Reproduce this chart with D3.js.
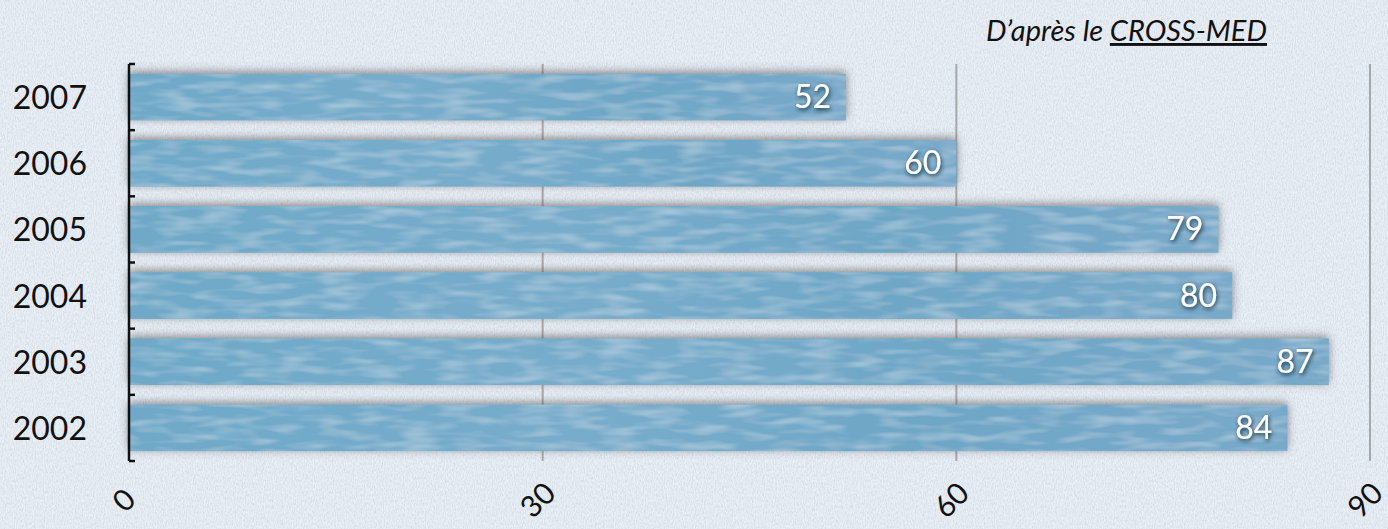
<!DOCTYPE html>
<meta charset="utf-8">
<head>
    <title>CROSS-MED</title>
</head>
<script src="https://d3js.org/d3.v7.min.js"></script>
<style>
  body { margin: 0; background: #e9eff6; }
</style>
<div id="my_dataviz"></div>
<script>

// data
var years = ["2007", "2006", "2005", "2004", "2003", "2002"];
var values = [52, 60, 79, 80, 87, 84];
var ticks = [0, 30, 60, 90];

var width = 1388,
    height = 529;

var svg = d3.select("#my_dataviz")
  .append("svg")
    .attr("width", width)
    .attr("height", height);

var defs = svg.append("defs");

// paper texture for the background
var paper = defs.append("filter").attr("id", "paper")
    .attr("x", 0).attr("y", 0).attr("width", "100%").attr("height", "100%");
paper.append("feTurbulence")
    .attr("type", "fractalNoise")
    .attr("baseFrequency", "0.9 0.35")
    .attr("numOctaves", 3)
    .attr("seed", 4)
    .attr("result", "noise");
paper.append("feColorMatrix")
    .attr("in", "noise")
    .attr("type", "matrix")
    .attr("values", "0 0 0 0 0.55  0 0 0 0 0.6  0 0 0 0 0.68  0 0 0 -1.1 0.75")
    .attr("result", "tint");
paper.append("feComposite").attr("in", "tint").attr("in2", "SourceGraphic").attr("operator", "over");

svg.append("rect")
    .attr("width", width)
    .attr("height", height)
    .attr("fill", "#eaf0f7")
    .attr("filter", "url(#paper)");

// shadow round the bars, heavier on top
var shadow = defs.append("filter").attr("id", "shadow")
    .attr("x", "-5%").attr("y", "-40%").attr("width", "110%").attr("height", "180%");
shadow.append("feDropShadow")
    .attr("dx", 0).attr("dy", -2)
    .attr("stdDeviation", 5)
    .attr("flood-color", "#555")
    .attr("flood-opacity", 0.7);

// soft brushed blue fill
var brush = defs.append("filter").attr("id", "brush");
brush.append("feTurbulence")
    .attr("type", "fractalNoise")
    .attr("baseFrequency", "0.025 0.12")
    .attr("numOctaves", 2)
    .attr("seed", 7)
    .attr("result", "n");
brush.append("feColorMatrix")
    .attr("in", "n")
    .attr("type", "matrix")
    .attr("values", "0 0 0 0 0.8  0 0 0 0 0.9  0 0 0 0 0.95  0 0 0 -0.7 0.4")
    .attr("result", "streaks");
brush.append("feComposite").attr("in", "streaks").attr("in2", "SourceGraphic").attr("operator", "atop");

var grad = defs.append("linearGradient").attr("id", "blue")
    .attr("x1", "0").attr("x2", "1").attr("y1", "0").attr("y2", "0");
grad.append("stop").attr("offset", "0%").attr("stop-color", "#6fa9c8");
grad.append("stop").attr("offset", "40%").attr("stop-color", "#78accb");
grad.append("stop").attr("offset", "70%").attr("stop-color", "#6ea6c6");
grad.append("stop").attr("offset", "100%").attr("stop-color", "#79a9c9");

var xScale = d3.scaleLinear()
    .domain([0, 90])
    .range([129, 1370]);

var yScale = d3.scaleBand()
    .domain(years)
    .range([64, 461])
    .paddingInner(0.3)
    .paddingOuter(0.15);

// vertical grid lines
svg.append("g")
  .selectAll("line")
  .data(ticks.slice(1))
  .join("line")
    .attr("x1", function(d) { return xScale(d); })
    .attr("x2", function(d) { return xScale(d); })
    .attr("y1", 64)
    .attr("y2", 461)
    .attr("stroke", "#a8a8a8")
    .attr("stroke-width", 2);

// bars
var bars = svg.append("g");
bars.selectAll("rect")
  .data(years)
  .join("rect")
    .attr("x", xScale(0))
    .attr("y", function(d) { return yScale(d); })
    .attr("width", function(d, i) { return xScale(values[i]) - xScale(0); })
    .attr("height", yScale.bandwidth())
    .attr("fill", "url(#blue)")
    .attr("filter", "url(#shadow)");

bars.append("g")
  .selectAll("rect")
  .data(years)
  .join("rect")
    .attr("x", xScale(0))
    .attr("y", function(d) { return yScale(d); })
    .attr("width", function(d, i) { return xScale(values[i]) - xScale(0); })
    .attr("height", yScale.bandwidth())
    .attr("fill", "url(#blue)")
    .attr("filter", "url(#brush)");

// value labels
var labelShadow = defs.append("filter").attr("id", "txtshadow")
    .attr("x", "-20%").attr("y", "-20%").attr("width", "140%").attr("height", "140%");
labelShadow.append("feDropShadow")
    .attr("dx", 1).attr("dy", 2)
    .attr("stdDeviation", 2)
    .attr("flood-color", "#0a2030")
    .attr("flood-opacity", 0.9);

svg.append("g")
  .selectAll("text")
  .data(years)
  .join("text")
    .attr("x", function(d, i) { return xScale(values[i]) - 15; })
    .attr("y", function(d) { return yScale(d) + yScale.bandwidth() / 2 + 11; })
    .attr("text-anchor", "end")
    .style("font-family", "Lato, 'Open Sans', sans-serif")
    .style("font-size", "32px")
    .attr("fill", "#fff")
    .attr("filter", "url(#txtshadow)")
    .text(function(d, i) { return values[i]; });

// y axis with ticks pointing right
var yAxis = svg.append("g");
yAxis.append("line")
    .attr("x1", 129).attr("x2", 129)
    .attr("y1", 64).attr("y2", 461)
    .attr("stroke", "#111")
    .attr("stroke-width", 2.5);
var bounds = d3.range(years.length + 1).map(function(i) {
  return yScale.range()[0] + i * (yScale.range()[1] - yScale.range()[0]) / years.length;
});
yAxis.selectAll(".tk")
  .data(bounds)
  .join("line")
    .attr("class", "tk")
    .attr("x1", 129).attr("x2", 135)
    .attr("y1", function(d) { return d; })
    .attr("y2", function(d) { return d; })
    .attr("stroke", "#111")
    .attr("stroke-width", 2.5);

yAxis.selectAll("text")
  .data(years)
  .join("text")
    .attr("x", 87)
    .attr("y", function(d) { return yScale(d) + yScale.bandwidth() / 2 + 12; })
    .attr("text-anchor", "end")
    .style("font-family", "Lato, 'Open Sans', sans-serif")
    .style("font-size", "32px")
    .attr("fill", "#111")
    .text(function(d) { return d; });

// rotated x tick labels
svg.append("g")
  .selectAll("text")
  .data(ticks)
  .join("text")
    .attr("transform", function(d) { return "translate(" + (xScale(d) - 6) + ",499) rotate(-45)"; })
    .attr("text-anchor", "middle")
    .attr("dominant-baseline", "central")
    .style("font-family", "Lato, 'Open Sans', sans-serif")
    .style("font-size", "30px")
    .attr("fill", "#111")
    .text(function(d) { return d; });

// source note
var note = svg.append("text")
    .attr("x", 1267)
    .attr("y", 41)
    .attr("text-anchor", "end")
    .style("font-family", "Lato, 'Open Sans', sans-serif")
    .style("font-style", "italic")
    .style("font-size", "29px")
    .attr("fill", "#111");
note.append("tspan").text("D\u2019après le ");
note.append("tspan").style("text-decoration", "underline").text("CROSS-MED");

</script>
